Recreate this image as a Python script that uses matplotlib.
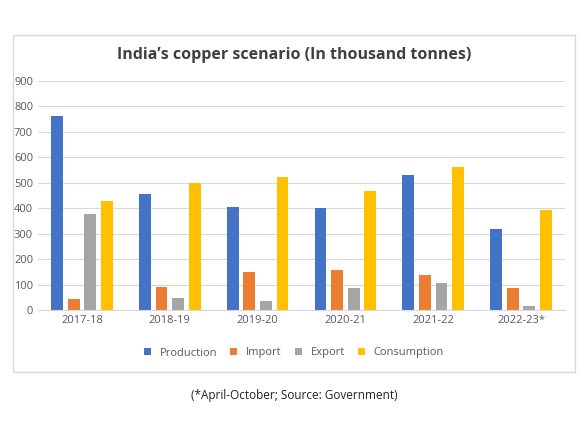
import matplotlib.pyplot as plt
import numpy as np
from matplotlib.patches import Rectangle

years = ["2017-18", "2018-19", "2019-20", "2020-21", "2021-22", "2022-23*"]
production = [762, 456, 405, 401, 531, 318]
imports = [43, 90, 149, 158, 138, 86]
exports = [377, 47, 35, 86, 106, 16]
consumption = [428, 499, 523, 468, 562, 393]

series = [
    ("Production", production, "#4472C4"),
    ("Import", imports, "#ED7D31"),
    ("Export", exports, "#A5A5A5"),
    ("Consumption", consumption, "#FFC000"),
]

plt.rcParams["font.family"] = ["Open Sans", "DejaVu Sans"]
fig = plt.figure(figsize=(5.88, 4.41), dpi=100)
fig.patches.append(Rectangle((13 / 588, 1 - 372 / 441), 562 / 588, 337 / 441,
                             transform=fig.transFigure, fill=False,
                             edgecolor="#d9d9d9", linewidth=1))
ax = fig.add_axes([38 / 588, 1 - 310 / 441, 527 / 588, 229 / 441])

x = np.arange(len(years))
width = 0.135
for i, (name, vals, color) in enumerate(series):
    ax.bar(x + (i - 1.5) * width * 1.4, vals, width, color=color, label=name)

ax.set_ylim(0, 900)
ax.set_xlim(-0.5, len(years) - 0.5)
ax.set_yticks(range(0, 901, 100))
ax.set_xticks(x)
ax.set_xticklabels(years)
ax.tick_params(length=0, labelsize=8, colors="#595959")
ax.grid(axis="y", color="#d9d9d9", linewidth=0.8)
ax.set_axisbelow(True)
for s in ["top", "right", "left"]:
    ax.spines[s].set_visible(False)
ax.spines["bottom"].set_color("#d9d9d9")

fig.text(0.5, 1 - 55 / 441, "India\u2019s copper scenario (In thousand tonnes)",
         ha="center", va="center", fontsize=11.5, fontweight="bold", color="#404040")
fig.legend(loc="center", bbox_to_anchor=(0.5, 1 - 353 / 441), ncol=4, frameon=False,
           fontsize=8, handlelength=0.6, handleheight=0.6, columnspacing=1.2,
           labelcolor="#595959")
fig.text(0.5, 1 - 396 / 441, "(*April-October; Source: Government)",
         ha="center", va="center", fontsize=8.5, color="#222222")
fig.savefig("out.png", dpi=100)
